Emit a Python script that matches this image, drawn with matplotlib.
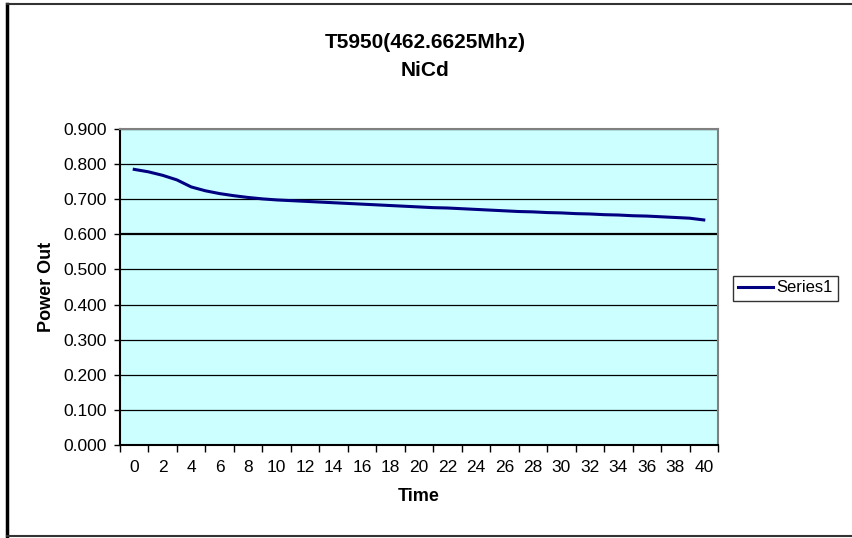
import matplotlib.pyplot as plt
from matplotlib.lines import Line2D
import numpy as np

plt.rcParams["font.family"] = ["Liberation Sans", "DejaVu Sans"]

time = list(range(0, 41))
power_out = [0.785, 0.778, 0.768, 0.755, 0.735, 0.724, 0.716, 0.710, 0.705, 0.701,
             0.698, 0.696, 0.694, 0.692, 0.690, 0.688, 0.686, 0.684, 0.682, 0.680,
             0.678, 0.676, 0.675, 0.673, 0.671, 0.669, 0.667, 0.665, 0.664, 0.662,
             0.661, 0.659, 0.658, 0.656, 0.655, 0.653, 0.652, 0.650, 0.648, 0.646,
             0.641]
x_labels = [str(t) for t in range(0, 41, 2)]
y_ticks = [i / 10 for i in range(10)]

fig = plt.figure(figsize=(8.52, 5.38), dpi=100)
ax = fig.add_axes([120 / 852, 93 / 538, 598 / 852, 316 / 538])
ax.set_facecolor("#CCFFFF")

ax.plot(time, power_out, color="#000080", linewidth=2.2, label="Series1")

ax.set_xlim(-1, 41)
ax.set_ylim(0, 0.9)
ax.set_yticks(y_ticks)
ax.set_yticklabels([f"{v:.3f}" for v in y_ticks])
for v in y_ticks[1:]:
    ax.axhline(v, color="black", linewidth=1.6 if abs(v - 0.6) < 1e-9 else 0.9, zorder=1)

# tick marks between categories, labels centred on them
ax.set_xticks(np.arange(-1, 42, 2))
ax.set_xticklabels([])
ax.set_xticks(range(0, 41, 2), minor=True)
ax.set_xticklabels(x_labels, minor=True)
ax.tick_params(axis="x", which="minor", length=0, pad=11, labelsize=12.5)
ax.tick_params(axis="x", which="major", length=5, width=1, direction="out")
ax.tick_params(axis="y", length=4.5, width=1, direction="out", labelsize=12.5, pad=5)

for s in ["top", "right"]:
    ax.spines[s].set_color("#808080")
    ax.spines[s].set_linewidth(1.5)
for s in ["left", "bottom"]:
    ax.spines[s].set_color("black")
    ax.spines[s].set_linewidth(1.5)

ax.set_xlabel("Time", fontsize=13, fontweight="bold", labelpad=9)
ax.set_ylabel("Power Out", fontsize=13, fontweight="bold", labelpad=6)

fig.text(425 / 852, 1 - 42 / 538, "T5950(462.6625Mhz)", ha="center", va="center",
         fontsize=15, fontweight="bold")
fig.text(425 / 852, 1 - 71 / 538, "NiCd", ha="center", va="center",
         fontsize=15, fontweight="bold")

leg = ax.legend(loc="center left", bbox_to_anchor=(733 / 852, 1 - 288 / 538),
                bbox_transform=fig.transFigure, fontsize=12, frameon=True,
                fancybox=False, edgecolor="black", handlelength=2.1,
                borderpad=0.3, handletextpad=0.2, borderaxespad=0)
leg.get_frame().set_linewidth(1)

# outer chart border (left, top, bottom)
fig.add_artist(Line2D([7 / 852, 7 / 852], [2 / 538, 1 - 4 / 538], color="black", linewidth=2.5))
fig.add_artist(Line2D([7 / 852, 1], [1 - 4 / 538, 1 - 4 / 538], color="#333333", linewidth=1.5))
fig.add_artist(Line2D([7 / 852, 1], [2 / 538, 2 / 538], color="#333333", linewidth=1.5))

fig.savefig("out.png", dpi=100)
